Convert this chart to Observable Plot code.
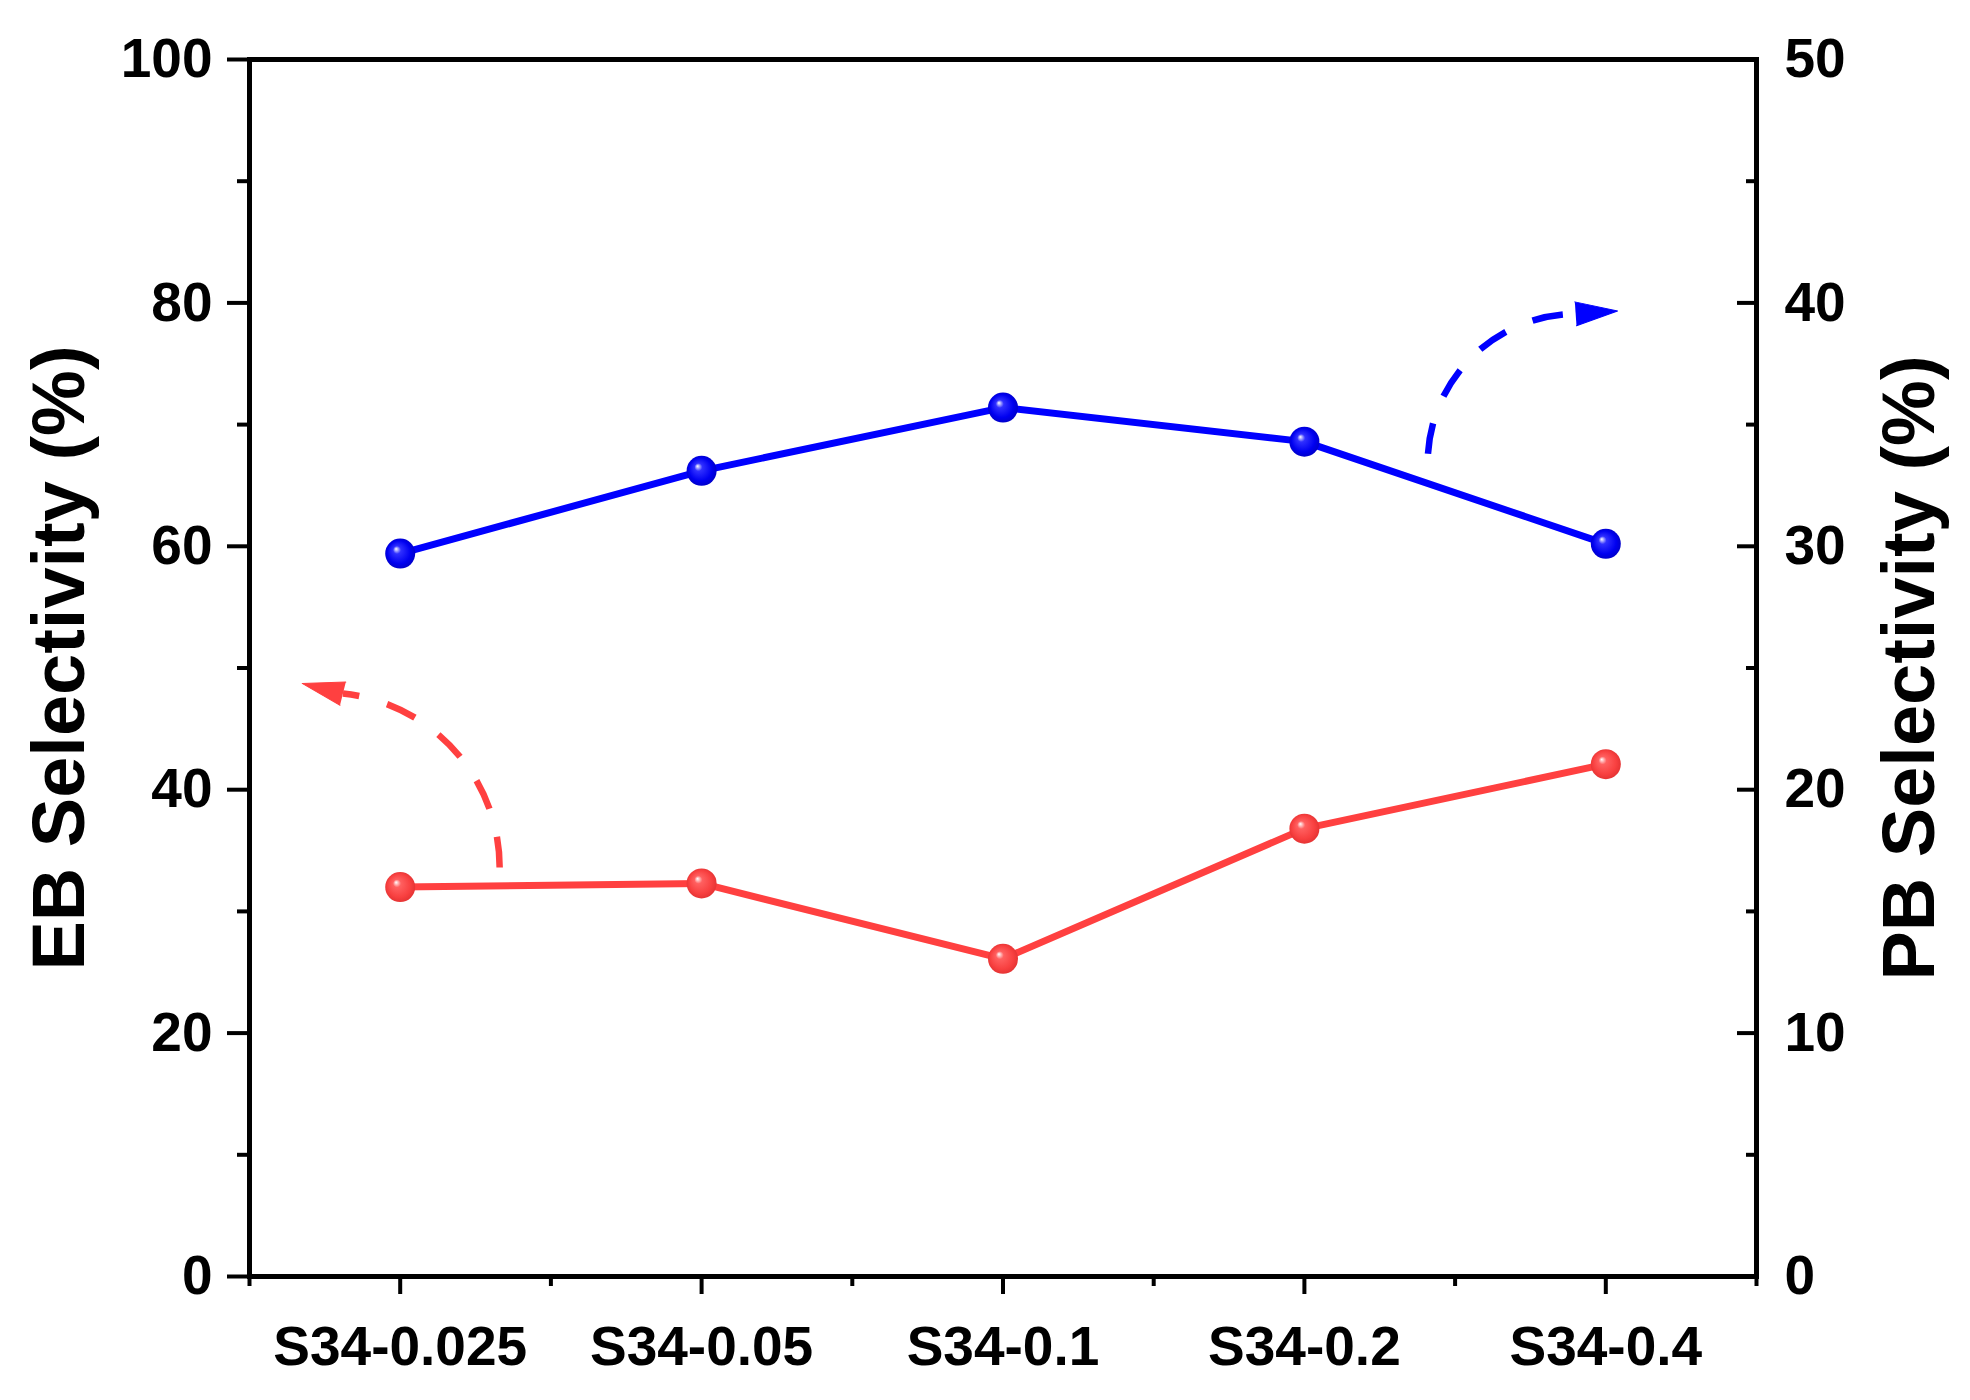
<!DOCTYPE html>
<html>
<head>
<meta charset="utf-8">
<script src="https://cdn.jsdelivr.net/npm/d3@7"></script>
<script src="https://cdn.jsdelivr.net/npm/@observablehq/plot@0.6"></script>
<style>
  html, body { margin: 0; padding: 0; background: #fff; }
  #chart svg { display: block; }
</style>
</head>
<body>
<svg width="0" height="0" style="position:absolute">
  <defs>
    <radialGradient id="ballBlue" cx="50%" cy="50%" r="55%" fx="36%" fy="34%">
      <stop offset="0%" stop-color="#ffffff"/>
      <stop offset="24%" stop-color="#3030ff"/>
      <stop offset="70%" stop-color="#0000f0"/>
      <stop offset="100%" stop-color="#0000c0"/>
    </radialGradient>
    <radialGradient id="ballRed" cx="50%" cy="50%" r="55%" fx="36%" fy="34%">
      <stop offset="0%" stop-color="#ffffff"/>
      <stop offset="24%" stop-color="#ff6060"/>
      <stop offset="70%" stop-color="#f84040"/>
      <stop offset="100%" stop-color="#e03030"/>
    </radialGradient>
  </defs>
</svg>
<div id="chart"></div>
<script>
// ---- data ----
const categories = ["S34-0.025", "S34-0.05", "S34-0.1", "S34-0.2", "S34-0.4"];
const ebSelectivity = [32.0, 32.3, 26.1, 36.8, 42.1];   // left axis (%)
const pbSelectivity = [29.7, 33.1, 35.7, 34.3, 30.1];   // right axis (%)
const leftTicks = [0, 20, 40, 60, 80, 100];
const leftMinorTicks = [10, 30, 50, 70, 90];
const rightTicks = [0, 10, 20, 30, 40, 50];
const rightMinorTicks = [5, 15, 25, 35, 45];
// curved indicator arrows: x in category-index units, y in left-axis units
const ebArrowStart = [0.33, 33.6];
const ebArrowEnd = [-0.19, 47.9];
const pbArrowStart = [3.41, 67.6];
const pbArrowEnd = [3.90, 79.1];

// ---- build ----
const rightMax = 50, leftMax = 100;
const toLeft = v => v * leftMax / rightMax;
const rows = categories.map((c, i) => ({i, category: c, eb: ebSelectivity[i], pb: toLeft(pbSelectivity[i])}));
const ebArrow = {x1: ebArrowStart[0], y1: ebArrowStart[1], x2: ebArrowEnd[0], y2: ebArrowEnd[1]};
const pbArrow = {x1: pbArrowStart[0], y1: pbArrowStart[1], x2: pbArrowEnd[0], y2: pbArrowEnd[1]};
const RED = "#ff4040", BLUE = "#0000ff";
const font = "'Liberation Sans', Arial, Helvetica, sans-serif";
const tickFont = {fontSize: 55, fontWeight: "bold", fontFamily: font};
const titleFont = {fontSize: 74, fontWeight: "bold", fontFamily: font, fill: "black", textAnchor: "middle", rotate: -90};
const dashStyle = {strokeWidth: 6.5, strokeDasharray: "31,29", strokeLinecap: "butt", headLength: 0};

const chart = Plot.plot({
  width: 1970,
  height: 1400,
  marginTop: 59,
  marginRight: 214,
  marginBottom: 124,
  marginLeft: 249,
  style: {fontFamily: font, color: "black", background: "white", overflow: "visible"},
  x: {type: "linear", domain: [-0.5, categories.length - 0.5]},
  y: {domain: [0, leftMax]},
  marks: [
    // left axis
    Plot.axisY(leftTicks, {anchor: "left", tickSize: 22, tickPadding: 15, strokeWidth: 4, label: null, ...tickFont}),
    Plot.axisY(leftMinorTicks, {anchor: "left", tickSize: 12, tickFormat: () => "", strokeWidth: 4, label: null}),
    // right axis (inward ticks)
    Plot.axisY(rightTicks.map(toLeft), {anchor: "right", tickSize: -20, tickPadding: 48, tickFormat: d => d * rightMax / leftMax, strokeWidth: 4, label: null, ...tickFont}),
    Plot.axisY(rightMinorTicks.map(toLeft), {anchor: "right", tickSize: -11, tickPadding: 0, tickFormat: () => "", strokeWidth: 4, label: null}),
    // bottom axis
    Plot.axisX(categories.map((c, i) => i), {anchor: "bottom", tickSize: 18, tickPadding: 31, tickFormat: i => categories[i], strokeWidth: 4, label: null, ...tickFont}),
    Plot.axisX(d3.range(categories.length + 1).map(i => i - 0.5), {anchor: "bottom", tickSize: 10, tickFormat: () => "", strokeWidth: 4, label: null}),
    Plot.frame({stroke: "black", strokeWidth: 5}),
    // axis titles
    Plot.text(["EB Selectivity (%)"], {frameAnchor: "left", dx: -189, dy: -10, ...titleFont}),
    Plot.text(["PB Selectivity (%)"], {frameAnchor: "right", dx: 154, dy: 0, ...titleFont}),
    // indicator arrows
    Plot.arrow([ebArrow], {x1: "x1", y1: "y1", x2: "x2", y2: "y2", bend: -42, stroke: RED, ...dashStyle}),
    Plot.arrow([pbArrow], {x1: "x1", y1: "y1", x2: "x2", y2: "y2", bend: 43, stroke: BLUE, ...dashStyle}),
    Plot.vector([ebArrow], {x: "x2", y: "y2", rotate: -76, length: 42, r: 12, shape: "spike", anchor: "start", fill: RED, stroke: RED, strokeWidth: 1}),
    Plot.vector([pbArrow], {x: "x2", y: "y2", rotate: 86, length: 42, r: 12, shape: "spike", anchor: "start", fill: BLUE, stroke: BLUE, strokeWidth: 1}),
    // series
    Plot.line(rows, {x: "i", y: "eb", stroke: RED, strokeWidth: 7}),
    Plot.line(rows, {x: "i", y: "pb", stroke: BLUE, strokeWidth: 7}),
    Plot.dot(rows, {x: "i", y: "eb", r: 15, fill: "url(#ballRed)", stroke: null}),
    Plot.dot(rows, {x: "i", y: "pb", r: 15, fill: "url(#ballBlue)", stroke: null})
  ]
});
document.getElementById("chart").appendChild(chart);
</script>
</body>
</html>
